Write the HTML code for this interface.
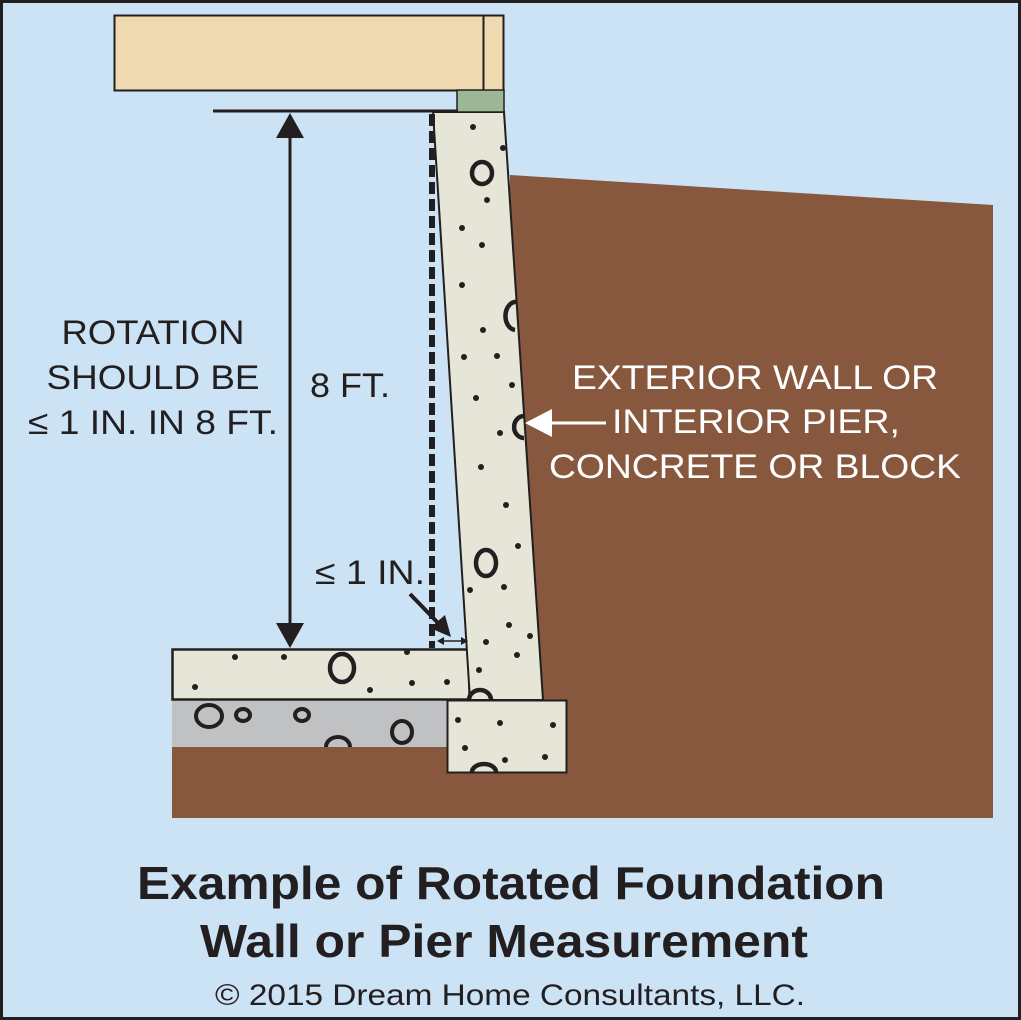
<!DOCTYPE html>
<html><head><meta charset="utf-8"><style>
html,body{margin:0;padding:0;background:#cce3f5;}
svg{display:block;}
text{font-family:"Liberation Sans",Arial,sans-serif;}
</style></head><body>
<svg width="1021" height="1020" viewBox="0 0 1021 1020" xmlns="http://www.w3.org/2000/svg">
<rect x="1.5" y="1.5" width="1018" height="1017" fill="#cce3f5" stroke="#231f20" stroke-width="3"/>
<polygon points="510,175 993,205 993,818 172,818 172,745 510,745" fill="#87573e"/>
<rect x="172" y="700" width="276" height="47" fill="#bfc1c3"/>
<g fill="none" stroke="#231f20" stroke-width="4">
<ellipse cx="209" cy="716" rx="13" ry="11"/><ellipse cx="243" cy="715" rx="7" ry="6"/><ellipse cx="302" cy="715" rx="7" ry="6"/><ellipse cx="402" cy="732" rx="10" ry="11"/><path d="M326,747 a12,10 0 0 1 24,0"/>
</g>
<rect x="172.5" y="649.5" width="297" height="50" fill="#e6e6d8" stroke="#231f20" stroke-width="2.5"/>
<rect x="447.5" y="700.5" width="119" height="72" fill="#e6e6d8" stroke="#231f20" stroke-width="2"/>
<polygon points="433,112 504,112 543,700 470,700" fill="#e6e6d8" stroke="#231f20" stroke-width="2"/>
<g fill="none" stroke="#231f20" stroke-width="4.5">
<ellipse cx="482" cy="173" rx="10" ry="11"/>
<path d="M517,302 a9,12 0 1 0 -2,28"/>
<path d="M524,416 a9,10 0 1 0 0,22"/>
<ellipse cx="486" cy="563" rx="10" ry="13"/>
<ellipse cx="342" cy="668" rx="12" ry="14"/>
<path d="M469,700 a11,10 0 0 1 22,0"/>
<path d="M472,772 a12,8 0 0 1 24,0"/>
</g>
<g fill="#231f20">
<circle cx="473" cy="127" r="3"/><circle cx="503" cy="148" r="3"/><circle cx="487" cy="200" r="3"/><circle cx="462" cy="228" r="3"/><circle cx="482" cy="245" r="3"/><circle cx="462" cy="285" r="3"/><circle cx="483" cy="330" r="3"/><circle cx="497" cy="356" r="3"/><circle cx="464" cy="357" r="3"/><circle cx="512" cy="385" r="3"/><circle cx="476" cy="398" r="3"/><circle cx="500" cy="433" r="3"/><circle cx="481" cy="467" r="3"/><circle cx="506" cy="505" r="3"/><circle cx="518" cy="546" r="3"/><circle cx="470" cy="590" r="3"/><circle cx="504" cy="587" r="3"/><circle cx="509" cy="625" r="3"/><circle cx="486" cy="642" r="3"/><circle cx="530" cy="636" r="3"/><circle cx="479" cy="670" r="3"/><circle cx="517" cy="655" r="3"/>
<circle cx="235" cy="657" r="3"/><circle cx="284" cy="657" r="3"/><circle cx="407" cy="652" r="3"/><circle cx="195" cy="687" r="3"/><circle cx="370" cy="690" r="3"/><circle cx="412" cy="683" r="3"/><circle cx="447" cy="682" r="3"/>
<circle cx="458" cy="720" r="3"/><circle cx="500" cy="723" r="3"/><circle cx="553" cy="725" r="3"/><circle cx="465" cy="748" r="3"/><circle cx="505" cy="760" r="3"/><circle cx="545" cy="757" r="3"/>
</g>
<rect x="114.5" y="15.5" width="389" height="75" fill="#eed9b0" stroke="#231f20" stroke-width="2"/>
<line x1="483.5" y1="16" x2="483.5" y2="90" stroke="#231f20" stroke-width="2"/>
<rect x="457" y="90" width="47" height="22" fill="#9cb795" stroke="#231f20" stroke-width="1.5"/>
<line x1="213" y1="111" x2="458" y2="111" stroke="#231f20" stroke-width="3"/>
<line x1="432" y1="114" x2="432" y2="648" stroke="#231f20" stroke-width="6" stroke-dasharray="12,5"/>
<line x1="290" y1="130" x2="290" y2="630" stroke="#231f20" stroke-width="3"/>
<polygon points="290,113 276,138 304,138" fill="#231f20"/>
<polygon points="290,648 276,623 304,623" fill="#231f20"/>
<line x1="410" y1="594" x2="440" y2="625" stroke="#231f20" stroke-width="4"/>
<polygon points="451,637 430,628 445,615" fill="#231f20"/>
<line x1="440" y1="641" x2="465" y2="641" stroke="#231f20" stroke-width="1.5"/>
<polygon points="437,641 444,637 444,645" fill="#231f20"/>
<polygon points="468,641 461,637 461,645" fill="#231f20"/>
<line x1="545" y1="423" x2="606" y2="423" stroke="#fff" stroke-width="3"/>
<polygon points="525,423 552,409 552,437" fill="#fff"/>
<g font-size="34" fill="#231f20" text-anchor="middle">
<text x="153" y="344" textLength="183" lengthAdjust="spacingAndGlyphs">ROTATION</text>
<text x="153" y="389" textLength="213" lengthAdjust="spacingAndGlyphs">SHOULD BE</text>
<text x="153" y="434" textLength="250" lengthAdjust="spacingAndGlyphs">≤ 1 IN. IN 8 FT.</text>
<text x="350" y="397" textLength="80" lengthAdjust="spacingAndGlyphs">8 FT.</text>
<text x="370" y="584" textLength="110" lengthAdjust="spacingAndGlyphs">≤ 1 IN.</text>
</g>
<g font-size="34" fill="#fff" text-anchor="middle">
<text x="755" y="389" textLength="366" lengthAdjust="spacingAndGlyphs">EXTERIOR WALL OR</text>
<text x="756" y="433" textLength="288" lengthAdjust="spacingAndGlyphs">INTERIOR PIER,</text>
<text x="755" y="478" textLength="412" lengthAdjust="spacingAndGlyphs">CONCRETE OR BLOCK</text>
</g>
<g fill="#231f20" text-anchor="middle">
<text x="511" y="899" font-size="46" font-weight="bold" textLength="748" lengthAdjust="spacingAndGlyphs">Example of Rotated Foundation</text>
<text x="504" y="957" font-size="46" font-weight="bold" textLength="608" lengthAdjust="spacingAndGlyphs">Wall or Pier Measurement</text>
<text x="510" y="1005" font-size="30" textLength="590" lengthAdjust="spacingAndGlyphs">© 2015 Dream Home Consultants, LLC.</text>
</g>
</svg>
</body></html>
